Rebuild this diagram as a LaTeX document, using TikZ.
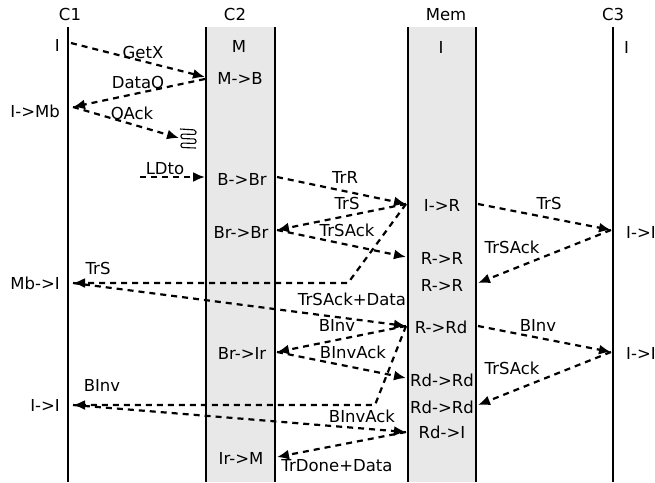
\documentclass[tikz,border=0pt]{standalone}
\usepackage{fontspec}
\setmainfont{DejaVu Sans}
\usetikzlibrary{arrows.meta}
\definecolor{lane}{RGB}{232,232,232}
\begin{document}
\begin{tikzpicture}[x=1pt,y=-1pt,
  life/.style={line width=2.6pt},
  msg/.style={line width=2.2pt, dash pattern=on 6pt off 5pt, -{Latex[length=12pt,width=10pt]}},
  txt/.style={font=\fontsize{16.5}{19}\selectfont, inner sep=0pt, anchor=base},
  ltxt/.style={txt, anchor=base east},
  rtxt/.style={txt, anchor=base west}
]
\useasboundingbox (0,0) rectangle (655,482);
% lanes
\fill[lane] (206,27) rectangle (275,482);
\fill[lane] (408,27) rectangle (476,482);
\draw[life] (68,27) -- (68,482);
\draw[life] (206,27) -- (206,482);
\draw[life] (275,27) -- (275,482);
\draw[life] (408,27) -- (408,482);
\draw[life] (476,27) -- (476,482);
\draw[life] (613,27) -- (613,482);
% headers
\node[txt] (hC1) at (70,20) {C1};
\node[txt] (hC2) at (235,20) {C2};
\node[txt] (hMem) at (446,20) {Mem};
\node[txt] (hC3) at (613,20) {C3};
% states C1
\node[ltxt] (s11) at (60,51) {I};
\node[ltxt] (s12) at (60,117) {I->Mb};
\node[ltxt] (s13) at (60,289) {Mb->I};
\node[ltxt] (s14) at (60,411) {I->I};
% states C2
\node[txt] (s21) at (239,52) {M};
\node[txt] (s22) at (240,84) {M->B};
\node[txt] (s23) at (242,185) {B->Br};
\node[txt] (s24) at (241,238) {Br->Br};
\node[txt] (s25) at (242,359) {Br->Ir};
\node[txt] (s26) at (241,464) {Ir->M};
% states Mem
\node[txt] (s31) at (441,53) {I};
\node[txt] (s32) at (442,211) {I->R};
\node[txt] (s33) at (442,264) {R->R};
\node[txt] (s34) at (442,291) {R->R};
\node[txt] (s35) at (441,333) {R->Rd};
\node[txt] (s36) at (442,386) {Rd->Rd};
\node[txt] (s37) at (442,413) {Rd->Rd};
\node[txt] (s38) at (442,438) {Rd->I};
% states C3
\node[rtxt] (s41) at (624,53) {I};
\node[rtxt] (s42) at (626,238) {I->I};
\node[rtxt] (s43) at (626,359) {I->I};
% endpoints
\coordinate (a1) at (71,43);
\coordinate (a2) at (73,107);
\coordinate (a3) at (73,283);
\coordinate (a4) at (73,405);
\coordinate (b1) at (205,77);
\coordinate (b2) at (205,79);
\coordinate (b3) at (205,177);
\coordinate (c1) at (277,177);
\coordinate (c2) at (277,230);
\coordinate (c3) at (277,352);
\coordinate (c4) at (277,457);
\coordinate (m1) at (406,204);
\coordinate (m2) at (406,257);
\coordinate (m3) at (406,326);
\coordinate (m4) at (406,378);
\coordinate (m5) at (406,432);
\coordinate (r1) at (478,204);
\coordinate (r2) at (478,283);
\coordinate (r3) at (478,326);
\coordinate (r4) at (478,405);
\coordinate (d1) at (611,230);
\coordinate (d2) at (611,352);
\coordinate (k1) at (348,283);
\coordinate (k2) at (375,405);
\coordinate (ld) at (140,177);
\coordinate (oa) at (179,138);
% messages
\draw[msg] (a1) -- (b1);
\draw[msg] (b2) -- (a2);
\draw[msg] (a2) -- (oa);
\draw[line width=1.1pt, rounded corners=2pt] (180,129) -- (196,130) -- (196,134.5) -- (181,134) -- (181,138.5) -- (196,139) -- (196,143.5) -- (181,143) -- (181,147.5) -- (196,148);
\draw[msg] (ld) -- (b3);
\draw[msg] (c1) -- (m1);
\draw[msg] (m1) -- (c2);
\draw[msg] (c2) -- (m2);
\draw[msg] (m1) -- (k1) -- (a3);
\draw[msg] (a3) -- (m3);
\draw[msg] (r1) -- (d1);
\draw[msg] (d1) -- (r2);
\draw[msg] (m3) -- (c3);
\draw[msg] (c3) -- (m4);
\draw[msg] (m3) -- (k2) -- (a4);
\draw[msg] (r3) -- (d2);
\draw[msg] (d2) -- (r4);
\draw[msg] (a4) -- (m5);
\draw[msg] (m5) -- (c4);
% message labels
\node[txt] (l1) at (143,58) {GetX};
\node[txt] (l2) at (138,88) {DataO};
\node[txt] (l3) at (132,119) {OAck};
\node[txt] (l4) at (165,174) {LDto};
\node[txt] (l5) at (345,183) {TrR};
\node[txt] (l6) at (347,209) {TrS};
\node[txt] (l7) at (347,236) {TrSAck};
\node[txt] (l8) at (98,274) {TrS};
\node[txt] (l9) at (352,305) {TrSAck+Data};
\node[txt] (l10) at (337,331) {BInv};
\node[txt] (l11) at (353,358) {BInvAck};
\node[txt] (l12) at (102,391) {BInv};
\node[txt] (l13) at (362,422) {BInvAck};
\node[txt] (l14) at (337,471) {TrDone+Data};
\node[txt] (l15) at (549,209) {TrS};
\node[txt] (l16) at (512,253) {TrSAck};
\node[txt] (l17) at (538,331) {BInv};
\node[txt] (l18) at (512,374) {TrSAck};
\end{tikzpicture}
\end{document}
